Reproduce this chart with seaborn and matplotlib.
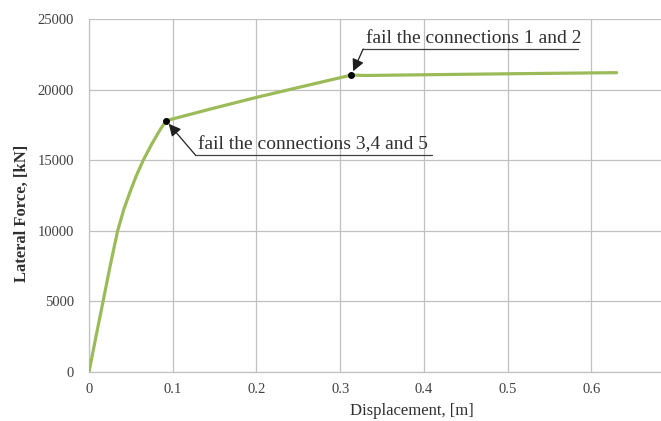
import matplotlib
matplotlib.use("Agg")
import matplotlib.pyplot as plt
import seaborn as sns
import pandas as pd

# Pushover curve: displacement [m] vs lateral force [kN]
displacement = [0.0, 0.0083, 0.0168, 0.0252, 0.0342, 0.0415, 0.049, 0.0565, 0.0648,
                0.075, 0.0847, 0.092, 0.15, 0.2, 0.25, 0.3134, 0.33, 0.4, 0.5, 0.63]
force = [0, 2500, 5000, 7500, 10000, 11500, 12750, 13900, 15000,
         16150, 17140, 17800, 18700, 19450, 20150, 21030, 21000, 21050, 21120, 21200]

# Failure events marked on the curve
event_x = [0.092, 0.3134]
event_y = [17800, 21030]
event_labels = ["fail the connections 3,4 and 5", "fail the connections 1 and 2"]

x_ticks = [0, 0.1, 0.2, 0.3, 0.4, 0.5, 0.6]
x_tick_labels = ["0", "0.1", "0.2", "0.3", "0.4", "0.5", "0.6"]
y_ticks = [0, 5000, 10000, 15000, 20000, 25000]

sns.set_theme(style="whitegrid")
plt.rcParams["font.family"] = ["Liberation Serif", "DejaVu Serif"]

df = pd.DataFrame({"Displacement": displacement, "Force": force})

fig = plt.figure(figsize=(6.61, 4.21), dpi=100)
ax = fig.add_axes([89 / 661, 1 - 372 / 421, 1 - 89 / 661, (372 - 19) / 421])

sns.lineplot(data=df, x="Displacement", y="Force", ax=ax, color="#9bbb59",
             linewidth=2.3, sort=False, zorder=3)
ax.scatter(event_x, event_y, s=16, color="black", zorder=4)

ax.set_xlim(0, 0.683)
ax.set_ylim(0, 25000)
ax.set_xticks(x_ticks)
ax.set_xticklabels(x_tick_labels)
ax.set_yticks(y_ticks)
ax.grid(True, color="#c0c0c0", linewidth=0.9)
ax.set_facecolor("white")
for side in ["top", "right"]:
    ax.spines[side].set_visible(False)
for side in ["left", "bottom"]:
    ax.spines[side].set_color("#c0c0c0")
    ax.spines[side].set_linewidth(0.9)
ax.tick_params(axis="both", length=0, labelsize=10.5, colors="#404040")
ax.tick_params(axis="x", pad=8)
ax.tick_params(axis="y", pad=11)

ax.set_xlabel("Displacement, [m]", fontsize=12, color="#303030")
ax.set_ylabel("Lateral Force, [kN]", fontsize=12, fontweight="bold",
              color="#303030")
ax.xaxis.set_label_coords(0.565, -0.088)
ax.yaxis.set_label_coords(-0.104, 0.45)

# Callouts: underline + leader with arrow to the event point
callouts = [
    # (text x, text baseline y, underline y, underline end x)
    (0.130, 15800, 15370, 0.409),
    (0.3304, 23300, 22880, 0.5833),
]
for (px, py, lab), (tx, ty, uy, ux) in zip(zip(event_x, event_y, event_labels), callouts):
    ax.text(tx, ty, lab, fontsize=14, color="#303030", va="baseline", ha="left")
    ax.plot([tx - 0.003, ux], [uy, uy], color="#404040", linewidth=0.9, zorder=4)
    ax.annotate("", xy=(px, py), xytext=(tx - 0.003, uy),
                arrowprops=dict(arrowstyle="-|>,head_length=0.6,head_width=0.3",
                                color="#202020", linewidth=0.9,
                                shrinkA=0, shrinkB=3),
                zorder=4)

fig.savefig("out.png", dpi=100)
